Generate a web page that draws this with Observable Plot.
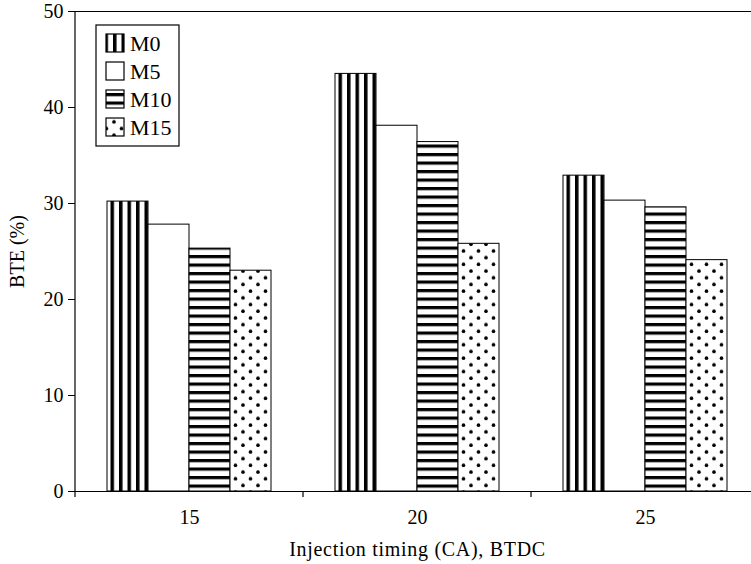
<!DOCTYPE html>
<html>
<head>
<meta charset="utf-8">
<script src="https://cdn.jsdelivr.net/npm/d3@7"></script>
<script src="https://cdn.jsdelivr.net/npm/@observablehq/plot@0.6"></script>
<style>
  html, body { margin: 0; padding: 0; background: white; }
  #chart svg text { font-size: 20px !important; font-family: "Liberation Serif", "DejaVu Serif", serif !important; }
  #chart svg g[aria-label="fx-axis label"] text { letter-spacing: 0.7px; }
  #chart svg g.legend text { font-size: 22px !important; }
</style>
</head>
<body>
<div id="chart"></div>
<script>
// Data
const timings = [15, 20, 25];
const series = ["M0", "M5", "M10", "M15"];
const M0 = [30.2, 43.5, 32.9];
const M5 = [27.8, 38.1, 30.3];
const M10 = [25.3, 36.4, 29.6];
const M15 = [23.0, 25.8, 24.1];
const yTicks = [0, 10, 20, 30, 40, 50];
const fills = ["url(#pat-v)", "white", "url(#pat-h)", "url(#pat-d)"];

const valuesBySeries = {M0, M5, M10, M15};
const data = timings.flatMap((t, i) => series.map(s => ({timing: t, series: s, value: valuesBySeries[s][i]})));

const FONT = "Liberation Serif, DejaVu Serif, serif";

const chart = Plot.plot({
  width: 751,
  height: 564,
  marginLeft: 75,
  marginRight: -8,
  marginTop: 11,
  marginBottom: 73,
  style: {fontFamily: FONT, fontSize: "20px", background: "white", color: "black", overflow: "visible"},
  fx: {domain: timings, padding: 0, tickSize: 0, tickPadding: 18, label: "Injection timing (CA), BTDC", labelAnchor: "center", labelOffset: 64, labelArrow: "none"},
  x: {domain: series, paddingInner: 0, paddingOuter: 0.76, axis: null},
  y: {domain: [0, 50], ticks: yTicks, tickSize: 7, tickPadding: 5, label: "BTE (%)", labelAnchor: "center", labelOffset: 66, labelArrow: "none"},
  color: {domain: series, range: fills},
  marks: [
    Plot.barY(data, {fx: "timing", x: "series", y: "value", fill: "series", stroke: "black", strokeWidth: 1}),
    Plot.ruleY([0, 50], {stroke: "black", strokeWidth: 1.2})
  ]
});

document.getElementById("chart").appendChild(chart);

const svg = d3.select(chart);
const fx = chart.scale("fx");
const y = chart.scale("y");

// Patterns
const defs = svg.insert("defs", ":first-child");
const pv = defs.append("pattern").attr("id", "pat-v").attr("patternUnits", "userSpaceOnUse").attr("width", 8.5).attr("height", 10);
pv.append("rect").attr("width", 8.5).attr("height", 10).attr("fill", "white");
pv.append("rect").attr("x", 0).attr("width", 3.5).attr("height", 10).attr("fill", "black");

const ph = defs.append("pattern").attr("id", "pat-h").attr("patternUnits", "userSpaceOnUse").attr("width", 10).attr("height", 8.5);
ph.append("rect").attr("width", 10).attr("height", 8.5).attr("fill", "white");
ph.append("rect").attr("y", 0).attr("width", 10).attr("height", 3.2).attr("fill", "black");

const pd = defs.append("pattern").attr("id", "pat-d").attr("patternUnits", "userSpaceOnUse").attr("width", 15).attr("height", 13.4);
pd.append("rect").attr("width", 15).attr("height", 13.4).attr("fill", "white");
pd.append("circle").attr("cx", 3).attr("cy", 3).attr("r", 1.8).attr("fill", "black");
pd.append("circle").attr("cx", 10.5).attr("cy", 9.7).attr("r", 1.8).attr("fill", "black");

// Axis lines and ticks
const left = fx.apply(timings[0]);
const step = fx.step ?? fx.bandwidth;
const g = svg.append("g").attr("stroke", "black").attr("stroke-width", 1.2);
g.append("line").attr("x1", left).attr("x2", left).attr("y1", y.apply(50)).attr("y2", y.apply(0));
[...timings.map(t => fx.apply(t)), fx.apply(timings[timings.length - 1]) + step].forEach(xx => {
  g.append("line").attr("x1", xx).attr("x2", xx).attr("y1", y.apply(0)).attr("y2", y.apply(0) + 6);
});

// Legend
const lx = left + 21, ly = y.apply(50) + 14;
const leg = svg.append("g").attr("class", "legend").attr("transform", `translate(${lx},${ly})`);
leg.append("rect").attr("width", 83).attr("height", 121).attr("fill", "white").attr("stroke", "black").attr("stroke-width", 1.2);
series.forEach((s, i) => {
  const cy = 18 + i * 28;
  leg.append("rect").attr("x", 10).attr("y", cy - 9).attr("width", 18).attr("height", 18)
    .attr("fill", fills[i]).attr("stroke", "black").attr("stroke-width", 1.2);
  leg.append("text").attr("x", 34).attr("y", cy).attr("dy", "0.35em").attr("text-anchor", "start")
    .attr("fill", "black").text(s);
});
</script>
</body>
</html>
